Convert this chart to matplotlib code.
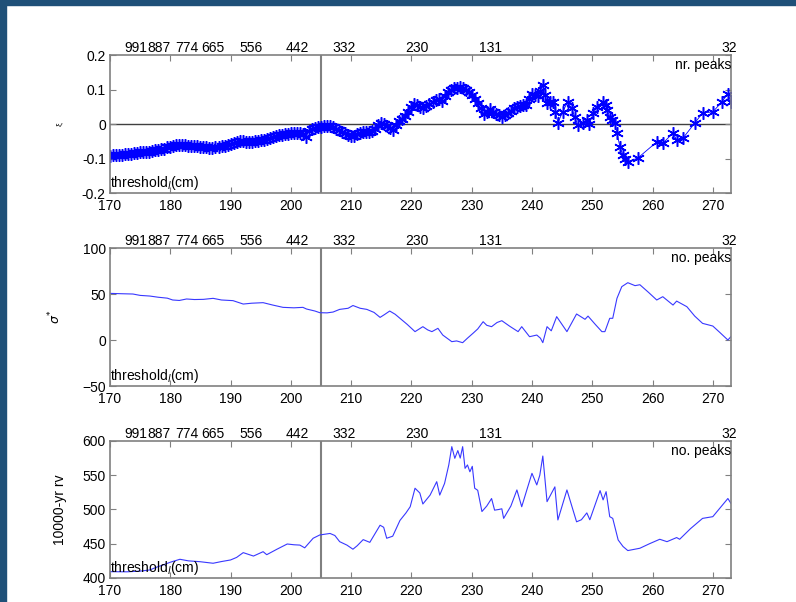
import numpy as np
import matplotlib
matplotlib.use("Agg")
import matplotlib.pyplot as plt
from matplotlib.patches import Rectangle

plt.rcParams['font.family'] = ['Liberation Sans', 'DejaVu Sans']
plt.rcParams['font.size'] = 10

# threshold (cm) vs. shape parameter xi -- dense part read every 0.5 cm
x1_dense = list(np.arange(170, 241.5, 0.5))
xi_dense = [-0.092, -0.090, -0.091, -0.089, -0.089, -0.087, -0.088, -0.086, -0.085,
            -0.083, -0.082, -0.081, -0.080, -0.080, -0.078, -0.076, -0.075, -0.073,
            -0.071, -0.068, -0.066, -0.064, -0.062, -0.060, -0.061, -0.062, -0.063,
            -0.064, -0.065, -0.064, -0.066, -0.067, -0.068, -0.069, -0.069, -0.068,
            -0.067, -0.065, -0.063, -0.061, -0.059, -0.056, -0.053, -0.050, -0.049,
            -0.051, -0.052, -0.051, -0.050, -0.049, -0.047, -0.045, -0.043, -0.040,
            -0.037, -0.035, -0.033, -0.031, -0.030, -0.028, -0.027, -0.026, -0.026,
            -0.027, -0.030, -0.037, -0.020, -0.014, -0.011, -0.009, -0.008, -0.007,
            -0.006, -0.007, -0.010, -0.014, -0.018, -0.022, -0.027, -0.032, -0.036,
            -0.034, -0.030, -0.026, -0.023, -0.024, -0.024, -0.020, -0.015, -0.004,
            0.004, 0.001, -0.006, -0.012, -0.016, -0.004, 0.008, 0.015, 0.022, 0.035,
            0.048, 0.058, 0.055, 0.050, 0.046, 0.052, 0.058, 0.064, 0.070, 0.072,
            0.066, 0.080, 0.092, 0.098, 0.103, 0.104, 0.106, 0.104, 0.100, 0.093,
            0.085, 0.073, 0.060, 0.045, 0.030, 0.036, 0.043, 0.036, 0.030, 0.025,
            0.020, 0.026, 0.032, 0.039, 0.045, 0.049, 0.052, 0.054, 0.055, 0.072,
            0.088, 0.084, 0.080]
x1_tail = [241.4, 241.8, 242.1, 242.5, 243.0, 243.5, 243.9, 244.3, 245.1, 245.9,
           246.6, 247.1, 247.6, 248.5, 249.1, 249.5, 250.2, 250.8, 251.8, 252.2,
           252.5, 252.9, 253.3, 253.7, 254.1, 254.6, 255.1, 255.5, 255.9, 257.6,
           260.7, 261.7, 263.4, 264, 265.1, 267, 268.3, 270, 271.5, 272.5, 273]
xi_tail = [0.095, 0.112, 0.085, 0.062, 0.063, 0.064, 0.035, 0.004, 0.035, 0.064,
           0.045, 0.020, -0.003, 0.002, 0.012, 0.000, 0.032, 0.049, 0.064, 0.055,
           0.040, 0.020, 0.012, 0.004, -0.026, -0.067, -0.090, -0.100, -0.110,
           -0.098, -0.052, -0.056, -0.026, -0.046, -0.040, 0.003, 0.032, 0.035,
           0.064, 0.088, 0.064]
x1 = x1_dense + x1_tail
xi = xi_dense + xi_tail

# threshold vs. modified scale sigma*
x2 = [170, 172, 173.8, 175, 176.6, 178, 179.5, 180.4, 181.5, 182.7, 184, 185.5,
      187.1, 188.5, 190.4, 192.1, 193.5, 195.4, 197, 198.7, 200.5, 202, 202.6,
      204, 204.8, 206, 207, 208.1, 209.5, 210.3, 211.5, 212.6, 213.8, 214.8,
      215.5, 216.4, 217.3, 218.1, 219.3, 220.6, 221.9, 222.7, 223.4, 224.4,
      225.2, 226.7, 227.5, 228.5, 229.3, 230.2, 231.0, 231.9, 232.5, 233.3,
      234.2, 235, 236.3, 237.7, 238.3, 239.6, 240.8, 241.4, 241.8, 242.5, 243.2,
      244.1, 245.8, 247.4, 248.8, 249.3, 250.5, 251.6, 252.1, 252.9, 253.4,
      254.1, 254.9, 255.9, 257.1, 257.9, 259.3, 260.7, 261.7, 263.4, 264, 265.7,
      267.0, 268.3, 270, 271.2, 272.5, 273]
sigma = [50.7, 50.3, 50.0, 48.5, 47.8, 46.5, 45.5, 43.5, 43.0, 44.6, 44.0, 44.2,
         45.3, 43.5, 42.8, 39.1, 40.0, 40.6, 38.0, 35.5, 35.0, 35.5, 33.7, 31.5,
         29.7, 29.5, 30.4, 33.3, 34.5, 37.5, 34.5, 33.3, 30.0, 24.6, 27.5, 31.5,
         28.0, 23.6, 17.0, 9.1, 14.5, 11.0, 9.1, 12.7, 5.4, -1.8, -1.0, -2.9, 2.0,
         7.2, 12.0, 19.9, 16.0, 14.5, 19.0, 21.0, 15.0, 9.1, 14.5, 3.6, 5.4, 2.0,
         -2.9, 14.5, 10.0, 25.4, 9.1, 28.3, 22.5, 26.0, 17.0, 9.1, 9.1, 23.6, 23.6,
         45.3, 58.0, 62.3, 59.1, 60.1, 52.0, 43.5, 47.1, 38.0, 42.3, 36.2, 26.0,
         18.1, 15.2, 8.0, 0.0, 3.6]

# threshold vs. 10000-yr return value
x3 = [170, 172.8, 175, 176.6, 177.8, 178.8, 180, 181.6, 183, 184.9, 187.1, 188.5,
      190, 191, 192.1, 193.8, 195.4, 196, 197.7, 199.4, 200.5, 201.5, 202.3,
      203.7, 204.8, 206.5, 207.3, 208.1, 209.3, 210.3, 211, 212, 213.1, 214.8,
      215.4, 215.9, 216.9, 218.1, 219.1, 219.8, 220.6, 221.4, 221.9, 223.1,
      224.2, 224.7, 225.5, 226.2, 226.7, 227.2, 227.7, 228.1, 228.5, 228.9,
      229.3, 229.7, 230.1, 230.5, 231, 231.7, 232.5, 233.3, 233.8, 234.5, 235,
      235.3, 236.5, 237.5, 238.3, 239.2, 240, 240.8, 241.3, 241.8, 242.5, 243.8,
      244.3, 245.8, 247.4, 248.2, 249.1, 249.6, 251.3, 251.8, 252.3, 252.9,
      253.4, 254.3, 255.1, 255.9, 257.9, 259.5, 261.2, 262.4, 264, 264.5, 266.3,
      268.3, 270, 272.5, 273]
rv = [409.2, 409, 410, 411.7, 416, 419, 423, 427.3, 425, 423.8, 421.5, 424, 426.3,
      430, 437, 432, 438.4, 434, 442, 449.6, 448.5, 448, 444, 458, 462.8, 465, 462,
      453, 448, 442, 447, 456, 452, 477, 474, 458, 461, 484, 495, 504, 531, 524,
      508, 521, 540.6, 521, 538, 565, 591.7, 574.7, 586, 575, 591.7, 560, 565, 555,
      563, 531, 528, 497, 505, 516, 499, 500, 501, 487, 505, 528.5, 504, 530,
      552.8, 535.8, 550, 578, 511.4, 533, 484.7, 528.5, 482, 485, 495, 485, 527.5,
      514, 526, 489.5, 487, 455.5, 446, 440, 443.4, 450, 456.5, 453, 459, 456.5,
      472, 487, 489.5, 516, 509]

# number of peaks above threshold, written along the top
peak_x = [174.3, 178.1, 182.7, 187.1, 193.4, 201.0, 208.8, 220.9, 233.2, 272.7]
peak_labels = ['991', '887', '774', '665', '556', '442', '332', '230', '131', '32']

fig = plt.figure(figsize=(7.96, 6.02), dpi=100)
fig.patches.append(Rectangle((0, 0), 6 / 796, 1, transform=fig.transFigure,
                             color='#1f5078', zorder=0))
fig.patches.append(Rectangle((0, 1 - 5 / 602), 1, 5 / 602, transform=fig.transFigure,
                             color='#1f5078', zorder=0))

boxes = [[0.1382, 0.6794, 0.780, 0.2292],
         [0.1382, 0.3588, 0.780, 0.2292],
         [0.1382, 0.0399, 0.780, 0.2276]]
axes = [fig.add_axes(b) for b in boxes]

ax1, ax2, ax3 = axes
# matlab-style asterisk markers
ax1.plot(x1, xi, color='#0000ff', lw=0.6, marker=(6, 2, 0), ms=9, mew=1.1)
ax1.axhline(0, color='#404040', lw=1, zorder=1)
ax1.set_ylim(-0.2, 0.2)
ax1.set_yticks([-0.2, -0.1, 0, 0.1, 0.2])
ax1.set_yticklabels(['-0.2', '-0.1', '0', '0.1', '0.2'])
ax1.set_ylabel('ξ', fontsize=6)
ax1.yaxis.set_label_coords(-0.075, 0.5)

ax2.plot(x2, sigma, color='#3838ff', lw=0.8)
ax2.set_ylim(-50, 100)
ax2.set_yticks([-50, 0, 50, 100])
ax2.set_ylabel(r'$\sigma^{*}$', fontsize=9)
ax2.yaxis.set_label_coords(-0.075, 0.5)

ax3.plot(x3, rv, color='#3838ff', lw=0.8)
ax3.set_ylim(400, 600)
ax3.set_yticks([400, 450, 500, 550, 600])
ax3.set_ylabel('10000-yr rv')
ax3.yaxis.set_label_coords(-0.07, 0.5)

corner = ['nr. peaks', 'no. peaks', 'no. peaks']
for ax, ctext in zip(axes, corner):
    ax.set_xlim(170, 273)
    ax.set_xticks(np.arange(170, 271, 10))
    ax.axvline(205, color='#808080', lw=1.5, zorder=1)
    ax.tick_params(direction='in', top=True, right=True, length=4,
                   color='#808080', labelsize=10)
    ax.tick_params(axis='x', pad=4)
    ax.tick_params(axis='y', pad=3)
    for s in ax.spines.values():
        s.set_color('#808080')
        s.set_linewidth(1.2)
    ax.text(0.0, 0.005, r'threshold$_l$(cm)', transform=ax.transAxes,
            ha='left', va='bottom', fontsize=10)
    ax.text(1.0, 0.975, ctext, transform=ax.transAxes, ha='right', va='top',
            fontsize=10)
    tr = ax.get_xaxis_transform()
    for px, lab in zip(peak_x, peak_labels):
        ax.text(px, 1.0, lab, transform=tr, ha='center', va='bottom',
                fontsize=10, clip_on=False)

fig.savefig('out.png', dpi=100)
